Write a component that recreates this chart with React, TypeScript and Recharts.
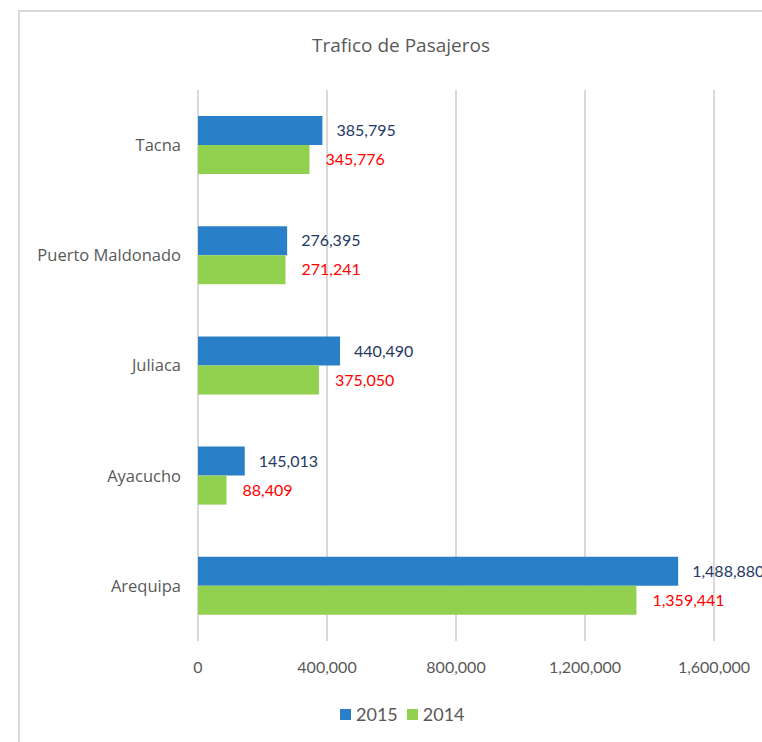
import { BarChart, Bar, XAxis, YAxis, CartesianGrid, Legend, LabelList } from 'recharts';

const categories = ['Tacna', 'Puerto Maldonado', 'Juliaca', 'Ayacucho', 'Arequipa'];
const pax2015 = [385795, 276395, 440490, 145013, 1488880];
const pax2014 = [345776, 271241, 375050, 88409, 1359441];
const xTicks = [0, 400000, 800000, 1200000, 1600000];

const COLORS = {
  y2015: '#2A80C8',
  y2014: '#92D050',
  label2015: '#1F3864',
  label2014: '#FF0000',
  text: '#595959',
  grid: '#D9D9D9',
};

const data = categories.map((name, i) => ({ name, y2015: pax2015[i], y2014: pax2014[i] }));

const fmt = (v: any) => Number(v).toLocaleString('en-US');

const LegendContent = () => (
  <div style={{ display: 'flex', alignItems: 'center', fontFamily: 'Lato', fontSize: 18, color: COLORS.text }}>
    <span style={{ width: 11, height: 11, background: COLORS.y2015, display: 'inline-block', marginRight: 5 }} />
    <span style={{ marginRight: 9 }}>2015</span>
    <span style={{ width: 11, height: 11, background: COLORS.y2014, display: 'inline-block', marginRight: 5 }} />
    <span>2014</span>
  </div>
);

export default function App() {
  return (
    <div style={{ position: 'relative', width: 762, height: 742, overflow: 'hidden', background: '#fff' }}>
      <style>{`body{margin:0}`}</style>
      {/* marco del gráfico */}
      <div
        style={{
          position: 'absolute',
          left: 18,
          top: 10,
          width: 800,
          height: 800,
          borderLeft: `2px solid ${COLORS.grid}`,
          borderTop: `2px solid ${COLORS.grid}`,
        }}
      />
      <div
        style={{
          position: 'absolute',
          top: 32,
          left: 281,
          width: 240,
          textAlign: 'center',
          fontFamily: 'Open Sans',
          fontSize: 19,
          color: COLORS.text,
        }}
      >
        Trafico de Pasajeros
      </div>
      <div style={{ position: 'absolute', left: 0, top: 0 }}>
        <BarChart
          width={762}
          height={742}
          data={data}
          layout="vertical"
          margin={{ top: 90, right: 48, left: 0, bottom: 0 }}
          barSize={29}
          barGap={0}
        >
          <CartesianGrid horizontal={false} stroke={COLORS.grid} strokeWidth={2} />
          <XAxis
            type="number"
            domain={[0, 1600000]}
            ticks={xTicks}
            tickFormatter={fmt}
            axisLine={false}
            tickLine={false}
            height={101}
            tickMargin={15}
            tick={{ fill: COLORS.text, fontSize: 16, fontFamily: 'Lato' }}
          />
          <YAxis
            type="category"
            dataKey="name"
            width={198}
            axisLine={false}
            tickLine={false}
            tickMargin={11}
            tick={{ fill: COLORS.text, fontSize: 16.5, fontFamily: 'Open Sans' }}
          />
          <Legend
            layout="horizontal"
            verticalAlign="middle"
            align="center"
            content={<LegendContent />}
            wrapperStyle={{ position: 'absolute', top: 703, left: 340, width: 'auto' }}
          />
          <Bar dataKey="y2015" name="2015" fill={COLORS.y2015} isAnimationActive={false}>
            <LabelList
              dataKey="y2015"
              position="right"
              offset={14}
              formatter={fmt}
              fill={COLORS.label2015}
              fontSize={16}
              fontFamily="Lato"
            />
          </Bar>
          <Bar dataKey="y2014" name="2014" fill={COLORS.y2014} isAnimationActive={false}>
            <LabelList
              dataKey="y2014"
              position="right"
              offset={16}
              formatter={fmt}
              fill={COLORS.label2014}
              fontSize={16}
              fontFamily="Lato"
            />
          </Bar>
        </BarChart>
      </div>
    </div>
  );
}
